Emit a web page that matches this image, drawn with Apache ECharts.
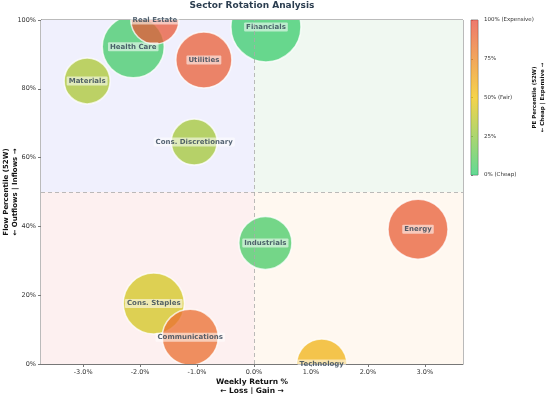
<!DOCTYPE html>
<html>
<head>
<meta charset="utf-8">
<script src="https://cdn.jsdelivr.net/npm/echarts@6/dist/echarts.min.js"></script>
<style>
  html, body { margin: 0; padding: 0; background: #fff; }
  #chart { width: 549px; height: 394px; }
</style>
</head>
<body>
<div id="chart"></div>
<script>
// sector data (draw order matters for overlaps)
const sectors = ['Technology', 'Financials', 'Health Care', 'Materials', 'Cons. Discretionary',
  'Utilities', 'Real Estate', 'Industrials', 'Energy', 'Cons. Staples', 'Communications']
const weeklyReturn = [1.19, 0.21, -2.12, -2.93, -1.05, -0.88, -1.74, 0.20, 2.88, -1.76, -1.12]
const flowPct = [0, 98, 92.2, 82.3, 64.5, 88.4, 100, 35.2, 39.2, 17.6, 7.8]
const pePct = [57, 3, 5, 32, 30, 92, 95, 6, 93, 42, 86]
const bubbleSize = [50, 70, 62, 46, 46, 56, 48, 53, 60, 61, 56]

const xTicks = [-3, -2, -1, 0, 1, 2, 3]
const colorbarLabels = { 0: '0% (Cheap)', 25: '25%', 50: '50% (Fair)', 75: '75%', 100: '100% (Expensive)' }

const X_MIN = -3.74
const X_MAX = 3.67

const chart = echarts.init(document.getElementById('chart'))

const points = sectors.map((s, i) => ({
  name: s,
  value: [weeklyReturn[i], flowPct[i], pePct[i], bubbleSize[i]]
}))

function renderBubble(params, api) {
  const c = api.coord([api.value(0), api.value(1)])
  const cs = params.coordSys
  return {
    type: 'circle',
    shape: { cx: c[0], cy: c[1], r: api.value(3) / 2 },
    style: { fill: api.visual('color'), opacity: 0.75, stroke: '#fff', lineWidth: 1.5 },
    clipPath: { type: 'rect', shape: { x: cs.x, y: cs.y, width: cs.width, height: cs.height } }
  }
}

function renderColorbar(params, api) {
  const p0 = api.coord([0, 100])
  const p1 = api.coord([1, 0])
  return {
    type: 'rect',
    shape: { x: p0[0], y: p0[1], width: p1[0] - p0[0], height: p1[1] - p0[1] },
    style: {
      opacity: 0.75,
      fill: new echarts.graphic.LinearGradient(0, 0, 0, 1, [
        { offset: 0, color: '#e74c3c' },
        { offset: 0.5, color: '#f1c40f' },
        { offset: 1, color: '#2ecc71' }
      ])
    }
  }
}

const option = {
  animation: false,
  title: {
    text: 'Sector Rotation Analysis',
    left: 252,
    textAlign: 'center',
    top: 1,
    padding: 0,
    textStyle: { color: '#2c3e50', fontSize: 9, fontWeight: 'bold', fontFamily: 'DejaVu Sans' }
  },
  grid: [
    { left: 41, right: 86, top: 20, bottom: 30, show: true, borderColor: '#777', borderWidth: 1, outerBoundsMode: 'none', containLabel: false },
    { left: 471, width: 7, top: 20, height: 155, show: true, borderColor: '#888', borderWidth: 1, outerBoundsMode: 'none', containLabel: false }
  ],
  visualMap: {
    show: false,
    seriesIndex: 1,
    dimension: 2,
    min: 0,
    max: 100,
    inRange: { color: ['#2ecc71', '#f1c40f', '#e74c3c'] }
  },
  xAxis: [
    {
      type: 'value',
      min: X_MIN,
      max: X_MAX,
      splitLine: { show: false },
      axisLine: { show: true, onZero: false, lineStyle: { color: '#777' } },
      axisTick: { show: true, length: 3, customValues: xTicks, lineStyle: { color: '#777' } },
      axisLabel: {
        customValues: xTicks,
        formatter: v => v.toFixed(1) + '%',
        fontSize: 6.5, color: '#333', margin: 5, fontFamily: 'DejaVu Sans'
      },
      name: 'Weekly Return %\n← Loss | Gain →',
      nameLocation: 'middle',
      nameGap: 14,
      nameMoveOverlap: false,
      nameTextStyle: { fontSize: 7.5, fontWeight: 'bold', color: '#111', lineHeight: 9, fontFamily: 'DejaVu Sans', verticalAlign: 'top' }
    },
    {
      gridIndex: 1,
      type: 'value',
      min: 0,
      max: 1,
      show: false
    }
  ],
  yAxis: [
    {
      type: 'value',
      min: 0,
      max: 100,
      interval: 20,
      splitLine: { show: false },
      axisLine: { show: true, onZero: false, lineStyle: { color: '#777' } },
      axisTick: { show: true, length: 3, lineStyle: { color: '#777' } },
      axisLabel: { formatter: v => v + '%', fontSize: 6.5, color: '#333', margin: 5, fontFamily: 'DejaVu Sans' },
      name: 'Flow Percentile (52W)\n← Outflows | Inflows →',
      nameLocation: 'middle',
      nameRotate: 90,
      nameGap: 21,
      nameMoveOverlap: false,
      nameTextStyle: { fontSize: 7, fontWeight: 'bold', color: '#111', lineHeight: 9, fontFamily: 'DejaVu Sans' }
    },
    {
      gridIndex: 1,
      type: 'value',
      position: 'right',
      min: 0,
      max: 100,
      interval: 25,
      splitLine: { show: false },
      axisLine: { show: false },
      axisTick: { show: true, length: 2, lineStyle: { color: '#777' } },
      axisLabel: { formatter: v => colorbarLabels[v], fontSize: 5.5, color: '#333', margin: 6, fontFamily: 'DejaVu Sans' },
      name: 'PE Percentile (52W)\n← Cheap | Expensive →',
      nameLocation: 'middle',
      nameRotate: 90,
      nameGap: 53,
      nameMoveOverlap: false,
      nameTextStyle: { fontSize: 5.5, fontWeight: 'bold', color: '#111', lineHeight: 8, fontFamily: 'DejaVu Sans' }
    }
  ],
  series: [
    {
      // quadrant backgrounds and dividers
      type: 'scatter',
      z: 1,
      data: [],
      markArea: {
        silent: true,
        itemStyle: { opacity: 1 },
        data: [
          [{ coord: [X_MIN, 50], itemStyle: { color: '#f0f0fd' } }, { coord: [0, 100] }],
          [{ coord: [0, 50], itemStyle: { color: '#f0f8f1' } }, { coord: [X_MAX, 100] }],
          [{ coord: [X_MIN, 0], itemStyle: { color: '#fdf0f0' } }, { coord: [0, 50] }],
          [{ coord: [0, 0], itemStyle: { color: '#fff8f0' } }, { coord: [X_MAX, 50] }]
        ]
      },
      markLine: {
        silent: true,
        symbol: 'none',
        label: { show: false },
        lineStyle: { color: '#aaa', type: [4, 3], width: 0.8 },
        data: [{ xAxis: 0 }, { yAxis: 50 }]
      }
    },
    {
      name: 'Sectors',
      type: 'custom',
      z: 2,
      data: points,
      encode: { x: 0, y: 1 },
      renderItem: renderBubble
    },
    {
      name: 'Labels',
      type: 'scatter',
      z: 3,
      clip: false,
      data: points,
      symbolSize: 1,
      itemStyle: { color: 'rgba(0,0,0,0)' },
      label: {
        show: true,
        position: 'inside',
        formatter: p => p.name,
        fontSize: 7,
        fontWeight: 'bold',
        color: '#2c3e50',
        fontFamily: 'DejaVu Sans',
        backgroundColor: 'rgba(255,255,255,0.7)',
        padding: [1, 2],
        borderRadius: 1
      }
    },
    {
      // colorbar
      type: 'custom',
      xAxisIndex: 1,
      yAxisIndex: 1,
      silent: true,
      data: [[0, 0]],
      renderItem: renderColorbar
    }
  ]
}

chart.setOption(option)

window.addEventListener('resize', () => chart.resize())
</script>
</body>
</html>
